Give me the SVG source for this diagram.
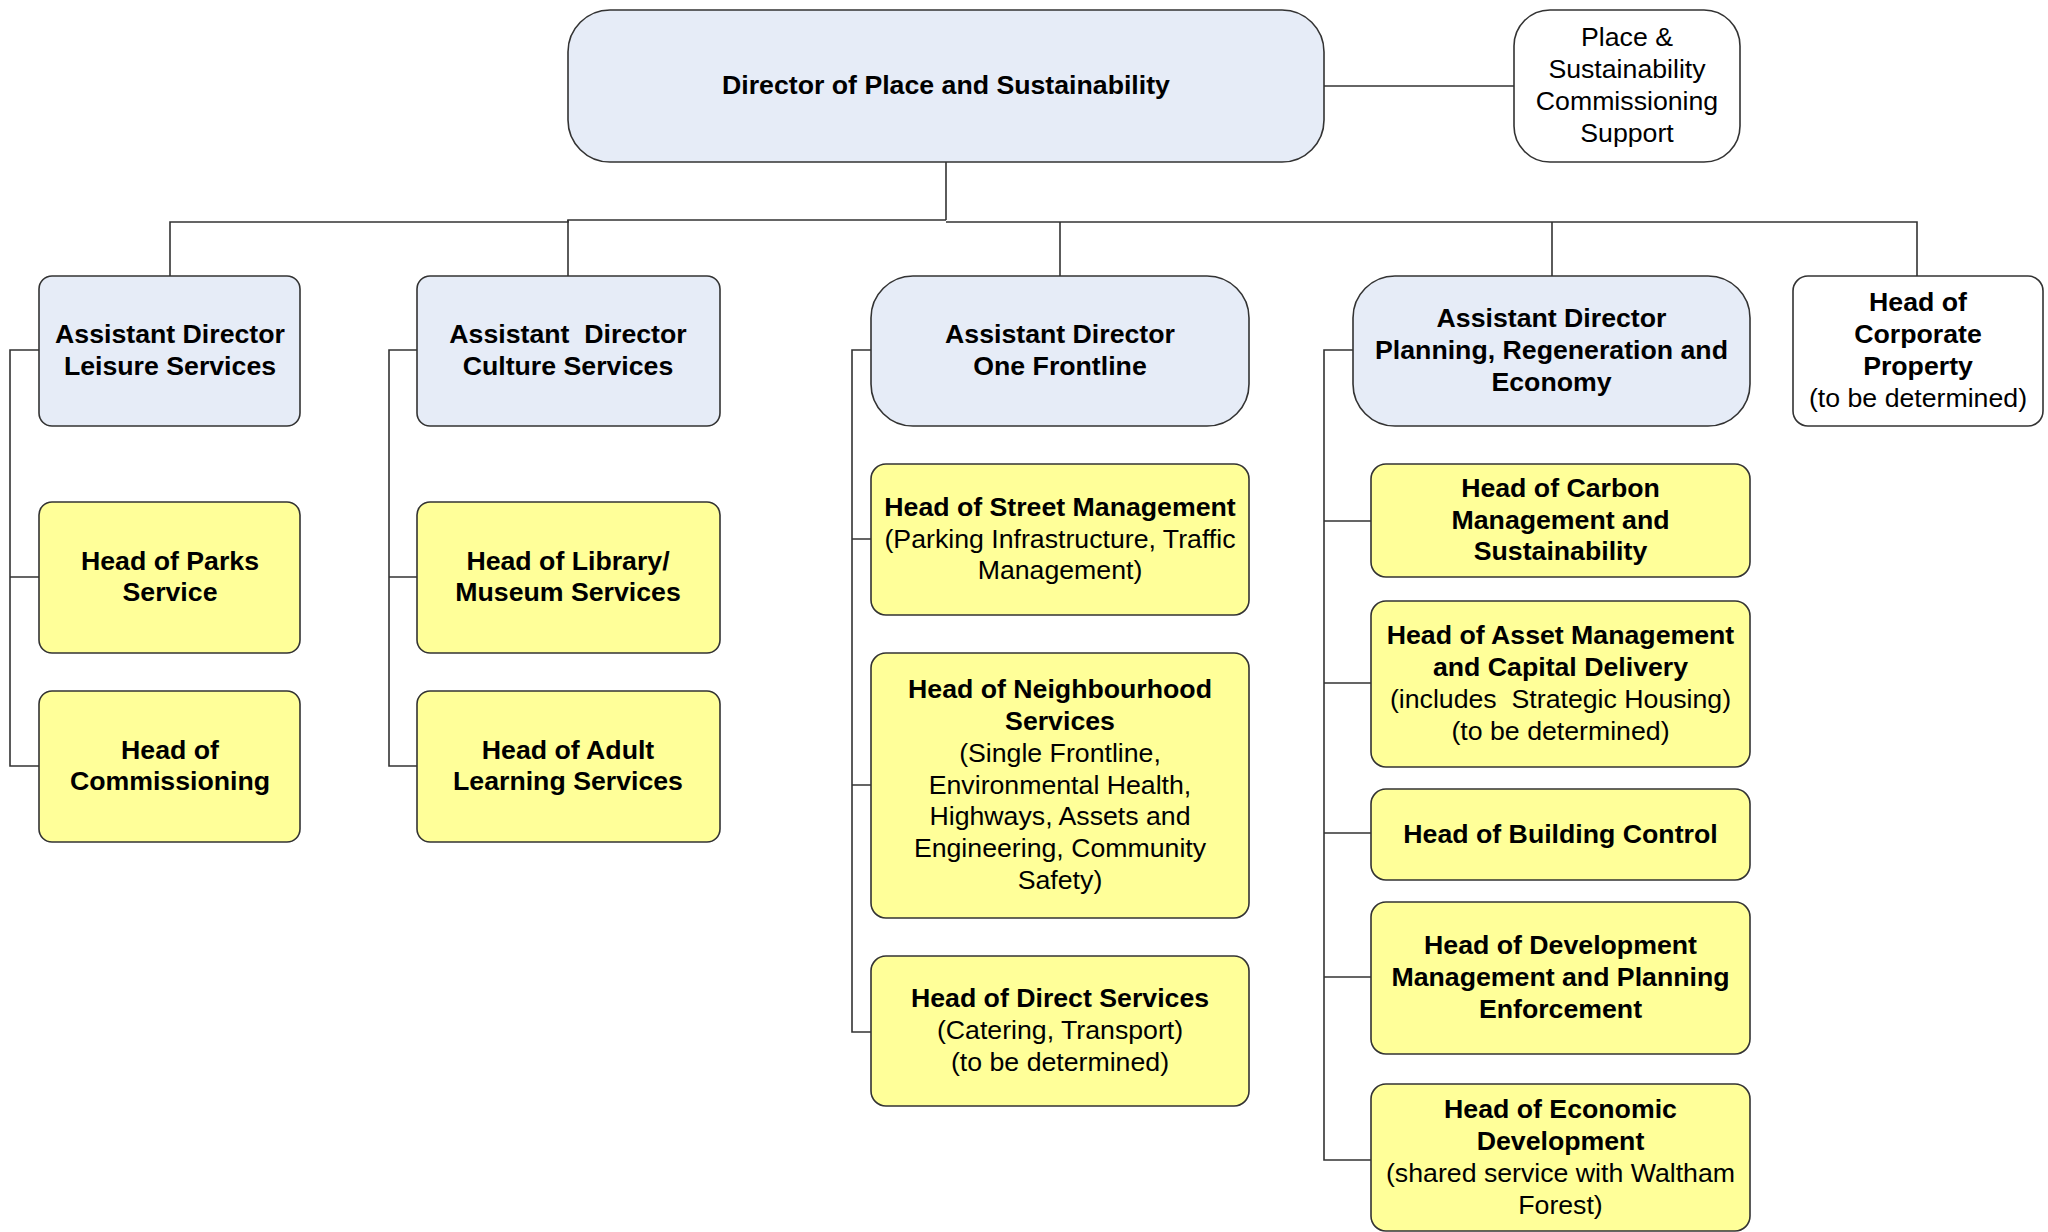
<svg xmlns="http://www.w3.org/2000/svg" width="2048" height="1232" viewBox="0 0 2048 1232">
<style>
.box{stroke:#333;stroke-width:1.6}
.blue{fill:#E6ECF7}
.yel{fill:#FFFF99}
.wht{fill:#FFFFFF}
.conn{fill:none;stroke:#333;stroke-width:1.6}
text{font-family:"Liberation Sans",Arial,sans-serif;font-size:26.7px;fill:#000;text-anchor:middle}
.b{font-weight:bold}
.n{font-weight:normal}
</style>
<rect width="2048" height="1232" fill="#FFFFFF"/>
<g id="connectors">
<path class="conn" d="M946 162 V220"/>
<path class="conn" d="M1324 86 H1514"/>
<path class="conn" d="M170 276 V222 H568 V220 H946 M946 222 H1917 V276"/>
<path class="conn" d="M568 220 V276"/>
<path class="conn" d="M1060 222 V276"/>
<path class="conn" d="M1552 222 V276"/>
<path class="conn" d="M39 350 H10 V766 H39 M10 577 H39"/>
<path class="conn" d="M417 350 H389 V766 H417 M389 577 H417"/>
<path class="conn" d="M871 350 H852 V1032 H871 M852 539 H871 M852 785 H871"/>
<path class="conn" d="M1353 350 H1324 V1160 H1371 M1324 521 H1371 M1324 683 H1371 M1324 833 H1371 M1324 977 H1371"/>
</g>
<g id="director">
<rect class="box blue" x="568" y="10" width="756" height="152" rx="42"/>
<text class="b" x="946" y="93.5">Director of Place and Sustainability</text>
</g>
<g id="commissioning-support">
<rect class="box wht" x="1514" y="10" width="226" height="152" rx="36"/>
<text class="n" x="1627" y="46.3">Place &amp;<tspan x="1627" dy="31.8">Sustainability</tspan><tspan x="1627" dy="31.8">Commissioning</tspan><tspan x="1627" dy="31.8">Support</tspan></text>
</g>
<g id="ad-leisure">
<rect class="box blue" x="39" y="276" width="261" height="150" rx="13"/>
<text class="b" x="170" y="343.1">Assistant Director<tspan x="170" dy="31.8">Leisure Services</tspan></text>
</g>
<g id="ad-culture">
<rect class="box blue" x="417" y="276" width="303" height="150" rx="13"/>
<text class="b" x="568" y="343.1" xml:space="preserve">Assistant  Director<tspan x="568" dy="31.8">Culture Services</tspan></text>
</g>
<g id="ad-frontline">
<rect class="box blue" x="871" y="276" width="378" height="150" rx="42"/>
<text class="b" x="1060" y="343.1">Assistant Director<tspan x="1060" dy="31.8">One Frontline</tspan></text>
</g>
<g id="ad-planning">
<rect class="box blue" x="1353" y="276" width="397" height="150" rx="42"/>
<text class="b" x="1551.5" y="327.2">Assistant Director<tspan x="1551.5" dy="31.8">Planning, Regeneration and</tspan><tspan x="1551.5" dy="31.8">Economy</tspan></text>
</g>
<g id="corporate-property">
<rect class="box wht" x="1793" y="276" width="250" height="150" rx="15"/>
<text class="b" x="1918" y="311.3">Head of<tspan x="1918" dy="31.8">Corporate</tspan><tspan x="1918" dy="31.8">Property</tspan><tspan class="n" x="1918" dy="31.8">(to be determined)</tspan></text>
</g>
<g id="parks">
<rect class="box yel" x="39" y="502" width="261" height="151" rx="13"/>
<text class="b" x="170" y="569.6">Head of Parks<tspan x="170" dy="31.8">Service</tspan></text>
</g>
<g id="commissioning">
<rect class="box yel" x="39" y="691" width="261" height="151" rx="13"/>
<text class="b" x="170" y="758.6">Head of<tspan x="170" dy="31.8">Commissioning</tspan></text>
</g>
<g id="library">
<rect class="box yel" x="417" y="502" width="303" height="151" rx="13"/>
<text class="b" x="568" y="569.6">Head of Library/<tspan x="568" dy="31.8">Museum Services</tspan></text>
</g>
<g id="adult-learning">
<rect class="box yel" x="417" y="691" width="303" height="151" rx="13"/>
<text class="b" x="568" y="758.6">Head of Adult<tspan x="568" dy="31.8">Learning Services</tspan></text>
</g>
<g id="street">
<rect class="box yel" x="871" y="464" width="378" height="151" rx="15"/>
<text class="b" x="1060" y="515.7">Head of Street Management<tspan class="n" x="1060" dy="31.8">(Parking Infrastructure, Traffic</tspan><tspan class="n" x="1060" dy="31.8">Management)</tspan></text>
</g>
<g id="neighbourhood">
<rect class="box yel" x="871" y="653" width="378" height="265" rx="15"/>
<text class="b" x="1060" y="698.1">Head of Neighbourhood<tspan x="1060" dy="31.8">Services</tspan><tspan class="n" x="1060" dy="31.8">(Single Frontline,</tspan><tspan class="n" x="1060" dy="31.8">Environmental Health,</tspan><tspan class="n" x="1060" dy="31.8">Highways, Assets and</tspan><tspan class="n" x="1060" dy="31.8">Engineering, Community</tspan><tspan class="n" x="1060" dy="31.8">Safety)</tspan></text>
</g>
<g id="direct">
<rect class="box yel" x="871" y="956" width="378" height="150" rx="15"/>
<text class="b" x="1060" y="1007.2">Head of Direct Services<tspan class="n" x="1060" dy="31.8">(Catering, Transport)</tspan><tspan class="n" x="1060" dy="31.8">(to be determined)</tspan></text>
</g>
<g id="carbon">
<rect class="box yel" x="1371" y="464" width="379" height="113" rx="15"/>
<text class="b" x="1560.5" y="496.7">Head of Carbon<tspan x="1560.5" dy="31.8">Management and</tspan><tspan x="1560.5" dy="31.8">Sustainability</tspan></text>
</g>
<g id="asset">
<rect class="box yel" x="1371" y="601" width="379" height="166" rx="15"/>
<text class="b" x="1560.5" y="644.3">Head of Asset Management<tspan x="1560.5" dy="31.8">and Capital Delivery</tspan><tspan class="n" x="1560.5" dy="31.8" xml:space="preserve">(includes  Strategic Housing)</tspan><tspan class="n" x="1560.5" dy="31.8">(to be determined)</tspan></text>
</g>
<g id="building-control">
<rect class="box yel" x="1371" y="789" width="379" height="91" rx="15"/>
<text class="b" x="1560.5" y="842.5">Head of Building Control</text>
</g>
<g id="development">
<rect class="box yel" x="1371" y="902" width="379" height="152" rx="15"/>
<text class="b" x="1560.5" y="954.2">Head of Development<tspan x="1560.5" dy="31.8">Management and Planning</tspan><tspan x="1560.5" dy="31.8">Enforcement</tspan></text>
</g>
<g id="economic">
<rect class="box yel" x="1371" y="1084" width="379" height="147" rx="15"/>
<text class="b" x="1560.5" y="1118.3">Head of Economic<tspan x="1560.5" dy="31.8">Development</tspan><tspan class="n" x="1560.5" dy="31.8">(shared service with Waltham</tspan><tspan class="n" x="1560.5" dy="31.8">Forest)</tspan></text>
</g>
</svg>
